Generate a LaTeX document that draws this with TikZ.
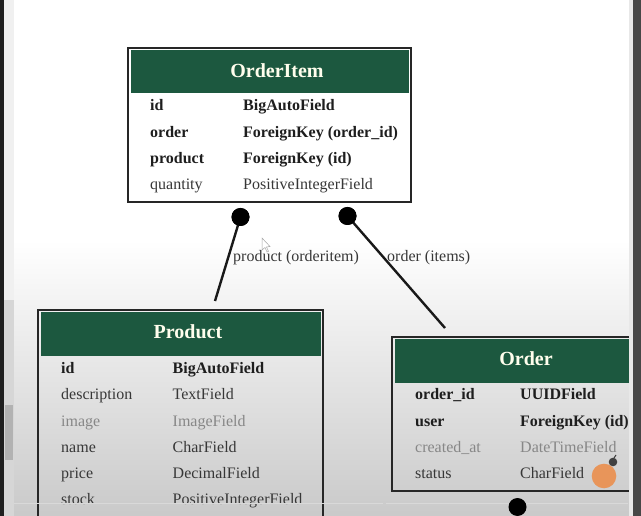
\documentclass[tikz,border=0pt]{standalone}
\usepackage{fontspec}
\setmainfont{Liberation Serif}
\definecolor{hdrgreen}{RGB}{28,88,63}
\definecolor{txtdark}{RGB}{30,30,30}
\definecolor{txtnorm}{RGB}{55,55,55}
\definecolor{txtgray}{RGB}{135,135,135}
\definecolor{dotorange}{RGB}{232,149,90}
\newcommand{\fsrow}{\fontsize{16}{19}\selectfont}
\newcommand{\fstitle}{\fontsize{20}{24}\selectfont\bfseries}
\tikzset{
  boxborder/.style={draw=black!85, line width=2pt},
  hdr/.style={fill=hdrgreen},
  ttl/.style={anchor=base, inner sep=0pt, text=white!93!yellow, font=\fstitle},
  fb/.style={anchor=base west, inner sep=0pt, text=txtdark, font=\fsrow\bfseries},
  fn/.style={anchor=base west, inner sep=0pt, text=txtnorm, font=\fsrow},
  fg/.style={anchor=base west, inner sep=0pt, text=txtgray, font=\fsrow},
  lbl/.style={anchor=base west, inner sep=0pt, text=txtnorm, font=\fsrow},
  dot/.style={circle, fill=black, inner sep=0pt, minimum size=18pt},
  link/.style={draw=black!90, line width=2.4pt},
}
\begin{document}
\begin{tikzpicture}[x=1pt,y=-1pt]
\useasboundingbox (0,0) rectangle (641,516);
% background
\fill[white] (0,0) rectangle (641,240);
\shade[top color=white, bottom color=black!21] (0,240) rectangle (641,516);

% connectors
\node[dot] (d1) at (240.5,217) {};
\node[dot] (d2) at (347.5,216) {};
\coordinate (e1) at (215,301);
\coordinate (e2) at (445,328);
\draw[link] (d1.center) -- (e1);
\draw[link] (d2.center) -- (e2);
\node[dot] at (240.5,217) {};
\node[dot] at (347.5,216) {};
\node[lbl] (l1) at (233,261.5) {product (orderitem)};
\node[lbl] (l2) at (387,261.5) {order (items)};

% cursor pointer
\draw[black!35, line width=0.5pt, fill=white] (262,238) -- (262,250) -- (265,247.5) -- (267,252) -- (268.5,251.3) -- (266.5,247) -- (270,246.5) -- cycle;

% OrderItem box
\fill[hdr] (130.5,50.5) rectangle (408.5,93.5);
\draw[boxborder] (128,48) rectangle (411,202);
\node[ttl] (t1) at (277,78) {OrderItem};
\node[fb] (a1) at (150,110.5) {id};
\node[fb] (a2) at (243,110.5) {BigAutoField};
\node[fb] (a3) at (150,137.2) {order};
\node[fb] (a4) at (243,137.2) {ForeignKey (order\_id)};
\node[fb] (a5) at (150,163.8) {product};
\node[fb] (a6) at (243,163.8) {ForeignKey (id)};
\node[fn] (a7) at (150,189.8) {quantity};
\node[fn] (a8) at (243,189.8) {PositiveIntegerField};

% Product box
\fill[hdr] (40.5,312.5) rectangle (320.5,356);
\draw[boxborder] (38,310) rectangle (323,540);
\node[ttl] (t2) at (188,339) {Product};
\node[fb] (b1) at (61,373.5) {id};
\node[fb] (b2) at (172.5,373.5) {BigAutoField};
\node[fn] (b3) at (61,399.5) {description};
\node[fn] (b4) at (172.5,399.5) {TextField};
\node[fg] (b5) at (61,426) {image};
\node[fg] (b6) at (172.5,426) {ImageField};
\node[fn] (b7) at (61,452.2) {name};
\node[fn] (b8) at (172.5,452.2) {CharField};
\node[fn] (b9) at (61,478.2) {price};
\node[fn] (b10) at (172.5,478.2) {DecimalField};
\node[fn] (b11) at (61,504.5) {stock};
\node[fn] (b12) at (172.5,504.5) {PositiveIntegerField};

% Order box
\fill[hdr] (394.5,339.5) rectangle (660,382.5);
\draw[boxborder] (392,337) rectangle (660,490.5);
\node[ttl] (t3) at (526,365.5) {Order};
\node[fb] (c1) at (415,399.5) {order\_id};
\node[fb] (c2) at (520,399.5) {UUIDField};
\node[fb] (c3) at (415,426.2) {user};
\node[fb] (c4) at (520,426.2) {ForeignKey (id)};
\node[fg] (c5) at (415,452.8) {created\_at};
\node[fg] (c6) at (520,452.8) {DateTimeField};
\node[fn] (c7) at (415,478.8) {status};
\node[fn] (c8) at (520,478.8) {CharField};

% orange cursor marker
\fill[dotorange] (604,476) circle (12.3);
\fill[black!75] (613,462) circle (4.3);
\draw[black!75, line width=1pt] (614,458) -- (616,455);

% scrollbar track
\draw[white!85!black, line width=1.5pt] (14,503.5) -- (383,503.5);
\draw[white!85!black, line width=1.5pt] (386,503.5) -- (628,503.5);
\node[dot] (d3) at (517.5,507) {};

% screen edges
\fill[black!88] (0,0) rectangle (3.5,516);
\fill[black!6] (3.5,0) rectangle (14,516);
\fill[black!16] (3.5,300) rectangle (14,516);
\fill[black!30] (5,405) rectangle (13,460);
\fill[black!9] (628.5,0) rectangle (633,516);
\fill[black!72] (633,0) rectangle (641,516);
\end{tikzpicture}
\end{document}
